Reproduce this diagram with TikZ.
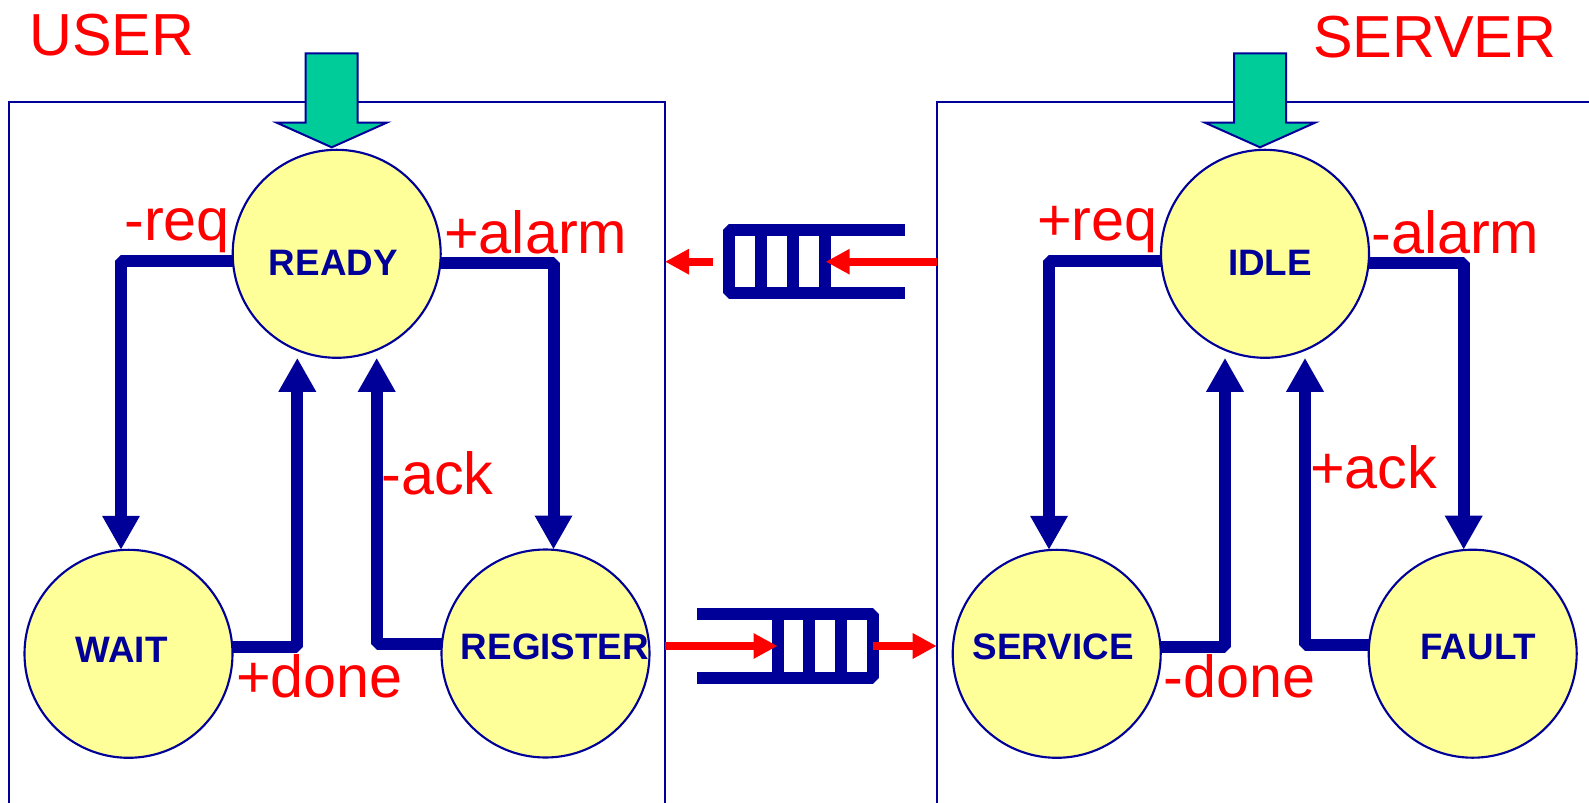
\documentclass[tikz,border=0pt]{standalone}
\usepackage{fontspec}
\setmainfont{Liberation Sans}
\usetikzlibrary{arrows.meta,calc}
\definecolor{navy}{RGB}{0,0,153}
\definecolor{statefill}{RGB}{255,255,153}
\definecolor{initgreen}{RGB}{0,204,153}

\begin{document}
\begin{tikzpicture}[x=0.75pt,y=-0.75pt,
  state/.style={circle, draw=navy, line width=1.6pt, fill=statefill,
    minimum size=156pt, inner sep=0pt, outer sep=0pt},
  statetext/.style={font=\fontsize{27.6}{30}\selectfont\bfseries, text=navy, inner sep=0pt},
  evt/.style={font=\fontsize{44.5}{48}\selectfont, text=red, inner sep=0pt, anchor=base west},
  trans/.style={draw=navy, line width=9pt, line join=bevel,
    -{Triangle[length=25.5pt,width=26.5pt]}},
  frame/.style={draw=navy, line width=1.5pt},
  queue/.style={draw=navy, line width=9pt, line join=bevel},
  msg/.style={draw=red, line width=6pt, -{Triangle[length=18pt,width=18pt]}},
  init/.style={draw=navy, line width=1.5pt, fill=initgreen, line join=miter}
]
\useasboundingbox (0,0) rectangle (1589,803);
\fill[white] (0,0) rectangle (1589,803);

% process frames
\draw[frame] (8.7,803) -- (8.7,101.7) -- (665,101.7) -- (665,803);
\draw[frame] (936.7,803) -- (936.7,101.7) -- (1589,101.7);

% initial-state markers
\draw[init] (305.7,53.3) -- (357.7,53.3) -- (357.7,122.7) -- (386.7,122.7)
  -- (331.7,147.3) -- (276.7,122.7) -- (305.7,122.7) -- cycle;
\draw[init] (1234,53.3) -- (1286,53.3) -- (1286,122.7) -- (1315,122.7)
  -- (1260,147.3) -- (1205,122.7) -- (1234,122.7) -- cycle;

% states
\node[state] (ready)    at (336.7,253.8) {};
\node[state] (wait)     at (128.5,653.8) {};
\node[state] (register) at (545.5,653.5) {};
\node[state] (idle)     at (1265,253.8) {};
\node[state] (service)  at (1056.7,653.8) {};
\node[state] (fault)    at (1472.7,653.7) {};

\node[statetext] (ready-t)    at (333.3,262.7) {READY};
\node[statetext] (wait-t)     at (121.7,650)   {WAIT};
\node[statetext] (register-t) at (555,646.7)   {REGISTER};
\node[statetext] (idle-t)     at (1270,262.7)  {IDLE};
\node[statetext] (service-t)  at (1053.3,646.7) {SERVICE};
\node[statetext] (fault-t)    at (1478.3,646.7) {FAULT};

% user transitions
\draw[trans] (ready.184.4) -| ($(wait.north)+(-7.5,0)$);
\draw[trans] (ready.355.6) -| ($(register.north)+(8,0)$);
\draw[trans] (wait.4.2) -| ($(ready.south)+(-39.4,0)$);
\draw[trans] (register.175.8) -| ($(ready.south)+(40,0)$);

% server transitions
\draw[trans] (idle.184.4) -| ($(service.north)+(-7.7,0)$);
\draw[trans] (idle.355.6) -| ($(fault.north)+(-9,0)$);
\draw[trans] (service.4.2) -| ($(idle.south)+(-40,0)$);
\draw[trans] (fault.175.8) -| ($(idle.south)+(40,0)$);

% alarm queue (server to user)
\draw[queue] (905,230) -- (729,230) -- (729,293) -- (905,293);
\foreach \x in {761,793,825} \draw[queue] (\x,230) -- (\x,293);
\coordinate (srv-out) at (936.7,261.7);
\coordinate (q1-tail) at (825.7,261.7);
\coordinate (q1-head) at (713,261.7);
\coordinate (usr-in)  at (665,261.7);
\draw[msg] (srv-out) -- (q1-tail);
\draw[msg] (q1-head) -- (usr-in);

% request queue (user to server)
\draw[queue] (697,613.7) -- (872.7,613.7) -- (872.7,677.7) -- (697,677.7);
\foreach \x in {777.5,809,841} \draw[queue] (\x,613.7) -- (\x,677.7);
\coordinate (usr-out) at (665,646);
\coordinate (q2-tail) at (777.5,646);
\coordinate (q2-head) at (872.7,646);
\coordinate (srv-in)  at (936.7,646);
\draw[msg] (usr-out) -- (q2-tail);
\draw[msg] (q2-head) -- (srv-in);

% titles and events
\node[evt] (user-title)   at (29,55)      {USER};
\node[evt] (server-title) at (1313,57.8)  {SERVER};
\node[evt] (l-req)    at (124,240)    {-req};
\node[evt] (l-alarm)  at (444,253.4)  {+alarm};
\node[evt] (l-ack)    at (381,494.5)  {-ack};
\node[evt] (l-done)   at (236,697)    {+done};
\node[evt] (r-req)    at (1037,240)   {+req};
\node[evt] (r-alarm)  at (1371,253.4) {-alarm};
\node[evt] (r-ack)    at (1310,488.5) {+ack};
\node[evt] (r-done)   at (1163,697)   {-done};
\end{tikzpicture}
\end{document}
